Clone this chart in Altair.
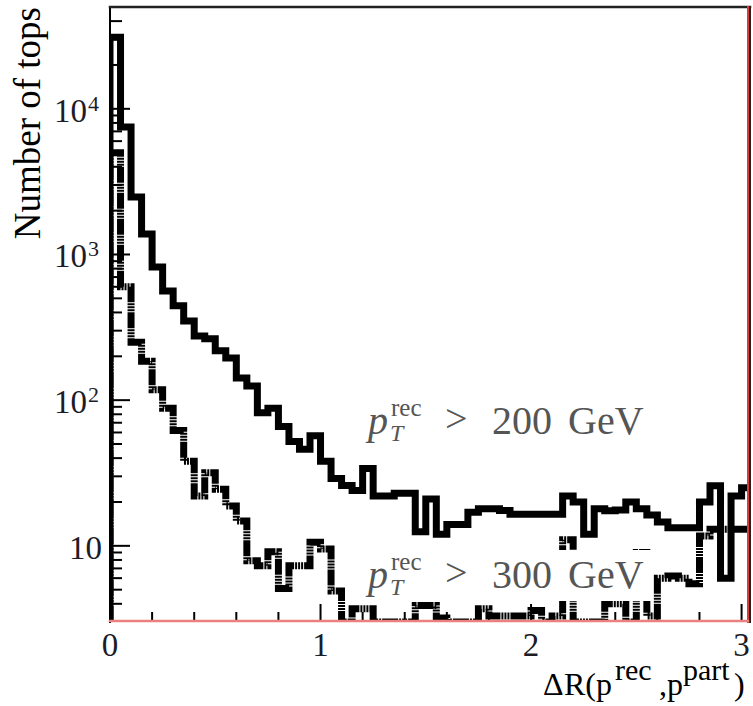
import altair as alt
import pandas as pd

# Histogram binning: 61 bins of width 0.05 in Delta R, starting at 0
bin_width = 0.05
n_bins = 61
bin_lo = [round(k * bin_width, 2) for k in range(n_bins)]

# Number of tops per bin, reconstructed p_T > 200 GeV
top200 = [31000, 7500, 2480, 1380, 822, 562, 444, 350, 276, 264,
          218, 195, 142, 125, 82, 88, 66, 52, 46, 57,
          38, 29, 26, 24, 34, 22, 22, 23, 23, 12.5,
          21, 12, 14, 14, 17, 18, 18, 17.5, 16.5, 16.5,
          16.5, 16.5, 16.5, 22, 20, 12, 18, 17.4, 17.6, 20,
          18, 16.3, 14.6, 13.3, 13.3, 13.3, 20, 25.8, 6, 22, 25]

# Number of tops per bin, reconstructed p_T > 300 GeV
top300 = [5000, 600, 250, 185, 118, 88, 62, 38, 22, 31.7,
          24.5, 18.8, 14.8, 7.9, 7.3, 9.1, 5.1, 7.3, 7.3, 10.6,
          9.5, 4.9, 1, 3.7, 3.7, 1, 1, 1, 1, 3.9,
          3.9, 3.2, 1, 1, 1, 3.7, 3.3, 3.3, 3.3, 3.3,
          3.6, 1, 3.3, 11, 1, 1, 1, 4, 4, 1,
          9, 3.3, 6, 6.2, 6, 5.5, 11.7, 13, 13, 13, 13]

# Axis decorations
y_major = [10, 100, 1000, 10000]
y_minor = [4, 5, 6, 7, 8, 9,
           20, 30, 40, 50, 60, 70, 80, 90,
           200, 300, 400, 500, 600, 700, 800, 900,
           2000, 3000, 4000, 5000, 6000, 7000, 8000, 9000,
           20000, 30000, 40000]
y_label_values = [10, 100, 1000, 10000]
y_label_right = [-8, -23, -23, -23]
y_exp_values = [100, 1000, 10000]
y_exponents = ["2", "3", "4"]
x_major = [0, 1, 2, 3]
x_minor = [0.2, 0.4, 0.6, 0.8, 1.2, 1.4, 1.6, 1.8, 2.2, 2.4, 2.6, 2.8]

W, H = 640, 615
SERIF = "Liberation Serif"

xscale = alt.Scale(domain=[0, 3.04], nice=False, zero=False)
yscale = alt.Scale(type="log", domain=[3, 50000], nice=False, clamp=True)


def step_frame(values):
    rows = [{"x": 0.0, "n": 1.0, "i": 0}]
    for k, v in enumerate(values):
        rows.append({"x": bin_lo[k], "n": v, "i": k + 1})
    rows.append({"x": round(bin_lo[-1] + bin_width, 2), "n": values[-1], "i": n_bins + 1})
    return pd.DataFrame(rows)


def hist_layer(values, dash=None):
    kw = dict(interpolate="step-after", color="black", strokeWidth=7, clip=True,
              strokeJoin="miter", strokeCap="butt")
    if dash:
        kw["strokeDash"] = dash
    return alt.Chart(step_frame(values)).mark_line(**kw).encode(
        x=alt.X("x:Q", scale=xscale, axis=None),
        y=alt.Y("n:Q", scale=yscale, axis=None),
        order="i:Q",
    )


def label(text, px, py, size, color="black", style="normal", align="left",
          baseline="alphabetic", angle=0):
    kw = dict(font=SERIF, fontSize=size, color=color, fontStyle=style,
              align=align, baseline=baseline)
    if angle:
        kw["angle"] = angle
    return alt.Chart(pd.DataFrame({"t": [text]})).mark_text(**kw).encode(
        x=alt.value(px - 110), y=alt.value(py - 7), text="t:N")


def rule_px(x1, y1, x2, y2, color, width):
    return alt.Chart(pd.DataFrame({"a": [0]})).mark_rule(
        color=color, strokeWidth=width, strokeCap="square").encode(
        x=alt.value(x1), x2=alt.value(x2), y=alt.value(y1), y2=alt.value(y2))


def y_ticks(vals, length):
    return alt.Chart(pd.DataFrame({"v": vals})).mark_rule(
        color="black", strokeWidth=2).encode(
        y=alt.Y("v:Q", scale=yscale, axis=None),
        x=alt.value(0), x2=alt.value(length))


def x_ticks(vals, length):
    return alt.Chart(pd.DataFrame({"v": vals})).mark_rule(
        color="black", strokeWidth=2).encode(
        x=alt.X("v:Q", scale=xscale, axis=None),
        y=alt.value(H), y2=alt.value(H - length))


LABEL_INK = "#1c1c28"

# Tick labels on the log axis: "10" plus a raised exponent
ylab_base = alt.Chart(pd.DataFrame({"v": y_label_values, "t": ["10"] * 4,
                                    "xo": y_label_right})).mark_text(
    font=SERIF, fontSize=33, color=LABEL_INK, align="right", baseline="middle",
    dy=3).encode(y=alt.Y("v:Q", scale=yscale, axis=None),
                 x=alt.X("xo:Q", scale=None), text="t:N")
ylab_exp = alt.Chart(pd.DataFrame({"v": y_exp_values, "t": y_exponents})).mark_text(
    font=SERIF, fontSize=22, color=LABEL_INK, align="left", baseline="middle",
    dy=-5).encode(y=alt.Y("v:Q", scale=yscale, axis=None),
                  x=alt.value(-22), text="t:N")
xlab = alt.Chart(pd.DataFrame({"v": x_major, "t": [str(v) for v in x_major]})).mark_text(
    font=SERIF, fontSize=33, color=LABEL_INK, align="center", baseline="middle").encode(
    x=alt.X("v:Q", scale=xscale, axis=None), y=alt.value(H + 24), text="t:N")

GRAY = "#555555"


def pt_label(cut, base):
    return [
        label("p", 368, base, 40, GRAY, "italic"),
        label("T", 390, base + 7, 24, GRAY, "italic"),
        label("rec", 391, base - 18, 25, GRAY),
        label(">", 445, base - 2, 40, GRAY),
        label(cut, 492, base, 40, GRAY),
        label("GeV", 568, base, 40, GRAY),
    ]


box300 = alt.Chart(pd.DataFrame({"a": [0]})).mark_rect(color="white").encode(
    x=alt.value(345 - 110), x2=alt.value(652 - 110),
    y=alt.value(550 - 7), y2=alt.value(601 - 7))

layers = [
    y_ticks(y_minor, 12), y_ticks(y_major, 20),
    x_ticks(x_minor, 10), x_ticks(x_major, 18),
    hist_layer(top200),
    hist_layer(top300, dash=[16, 1, 2, 1, 2, 1, 2, 1]),
    box300,
    *pt_label("200", 434),
    *pt_label("300", 588),
    rule_px(0, 0, 0, H, "black", 2),
    rule_px(0, 0, W, 0, "#222222", 2.5),
    rule_px(W - 2, 0, W - 2, H, "#e03838", 2),
    rule_px(W, 0, W, H, "#222222", 2),
    rule_px(0, H - 1, W - 2, H - 1, "#ec8080", 2.5),
    ylab_base, ylab_exp, xlab,
    label("Number of tops", 29, 7, 37, "black", align="right", baseline="middle", angle=270),
    label("\u0394", 543, 695, 32),
    label("R(p", 564, 695, 32),
    label("rec", 615, 680, 30),
    label(",p", 659, 695, 32),
    label("part", 683, 680, 30),
    label(")", 734, 695, 32),
]

chart = alt.layer(*layers).properties(
    width=W, height=H,
    padding={"left": 110, "top": 7, "right": 3, "bottom": 84},
    autosize=alt.AutoSizeParams(type="none"),
    background="white",
).configure_view(stroke=None)

chart.save("out.html", embed_options={"renderer": "svg", "actions": False})
